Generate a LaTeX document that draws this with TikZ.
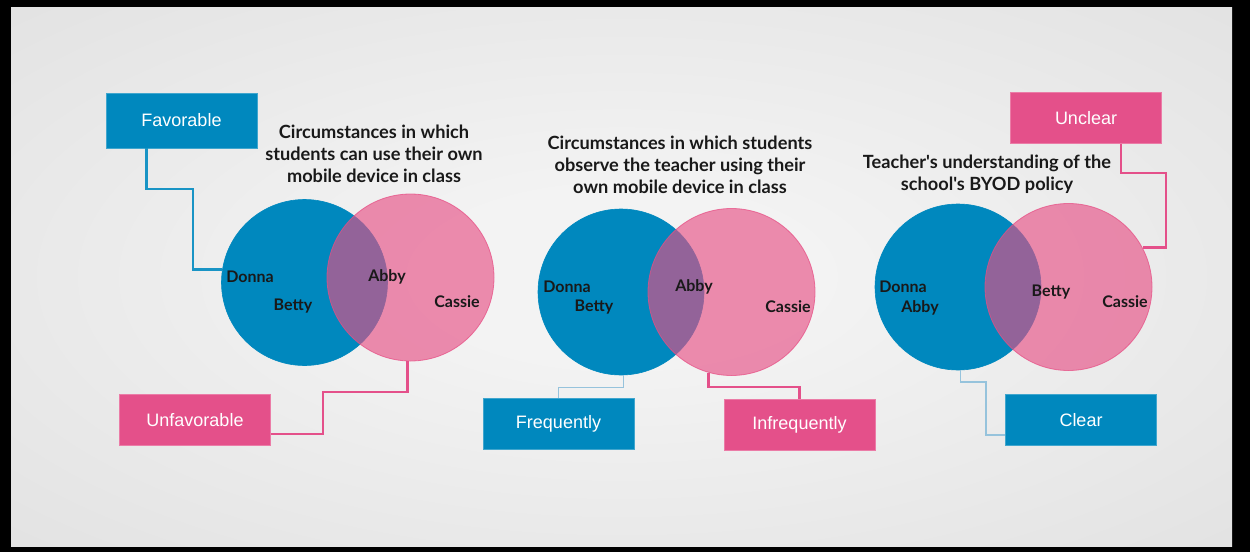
\documentclass[tikz,border=0pt]{standalone}
\usepackage{fontspec}
\setmainfont{Liberation Sans}
\newfontfamily\lato{Lato}
\definecolor{myblue}{RGB}{0,136,190}
\definecolor{mypink}{RGB}{228,80,138}
\definecolor{circpink}{RGB}{231,79,133}
\definecolor{lineblue}{RGB}{150,195,220}
\definecolor{txtdark}{RGB}{25,25,25}
\definecolor{bginner}{RGB}{243,243,243}
\definecolor{bgmid}{RGB}{218,218,218}
\definecolor{bgouter}{RGB}{210,210,210}
\pgfdeclareradialshading{bgshade}{\pgfpoint{0bp}{0bp}}{color(0bp)=(bginner); color(8bp)=(bginner); color(50bp)=(bgmid); color(72bp)=(bgouter)}
\begin{document}
\begin{tikzpicture}[x=1pt,y=-1pt,
  labelbox/.style={minimum width=151pt, minimum height=51pt, inner sep=0pt, text=white,
    font=\fontsize{18}{20}\selectfont, line width=0.7pt},
  bluebox/.style={labelbox, fill=myblue, draw=myblue!75!white},
  pinkbox/.style={labelbox, fill=mypink, draw=mypink!75!white},
  bcirc/.style={circle, inner sep=0pt, minimum size=166pt, fill=myblue, draw=myblue, line width=0.6pt},
  pcirc/.style={circle, inner sep=0pt, minimum size=167pt, fill=circpink, fill opacity=0.64,
    draw=circpink, draw opacity=0.75, line width=0.8pt},
  pname/.style={font=\lato\bfseries\fontsize{16}{18}\selectfont, text=txtdark, inner sep=0pt},
  ttl/.style={font=\lato\bfseries\fontsize{18.2}{22}\selectfont, text=txtdark, align=center, inner sep=0pt},
  bline/.style={draw=myblue!90!white, line width=2.3pt},
  pline/.style={draw=mypink, line width=2.3pt},
  tline/.style={draw=lineblue, line width=1.1pt}]
\useasboundingbox (0,0) rectangle (1250,552);
\fill[black] (0,0) rectangle (1250,552);
\shade[shading=bgshade] (11,7) rectangle (1232,546);

% ---------- panel 1 ----------
\node[bcirc] (b1) at (304.5,282.5) {};
\node[pcirc] (p1) at (410.5,277.5) {};
\node[ttl] (t1) at (374,154) {Circumstances in which\\students can use their own\\mobile device in class};
\node[pname] (n1a) at (250,277) {Donna};
\node[pname] (n1b) at (293,306) {Betty};
\node[pname] (n1c) at (387,277) {Abby};
\node[pname] (n1d) at (457,302) {Cassie};
\node[bluebox, minimum height=55pt] (fav) at (181.5,120.5) {Favorable};
\node[pinkbox] (unf) at (195,420) {Unfavorable};
\draw[bline] ([xshift=-35pt]fav.south) |- (193,189) |- (b1.171);
\draw[pline] (p1.-92) |- (323,392) |- ([yshift=-14pt]unf.east);

% ---------- panel 2 ----------
\node[bcirc] (b2) at (621,292) {};
\node[pcirc] (p2) at (731.5,292) {};
\node[ttl] (t2) at (680,164.5) {Circumstances in which students\\observe the teacher using their\\own mobile device in class};
\node[pname] (n2a) at (567,287) {Donna};
\node[pname] (n2b) at (594,307) {Betty};
\node[pname] (n2c) at (694,287) {Abby};
\node[pname] (n2d) at (788,307) {Cassie};
\node[bluebox] (freq) at (558.5,424) {Frequently};
\node[pinkbox] (infr) at (799.5,424.5) {Infrequently};
\draw[tline] (b2.-88) -- ++(0,12) -| (freq.north);
\draw[pline] (p2.-106) -- ++(0,14.6) -| (infr.north);

% ---------- panel 3 ----------
\node[bcirc] (b3) at (958,287) {};
\node[pcirc] (p3) at (1068.5,287) {};
\node[ttl] (t3) at (987,174) {Teacher's understanding of the\\school's BYOD policy};
\node[pname] (n3a) at (903,287) {Donna};
\node[pname] (n3b) at (920,308) {Abby};
\node[pname] (n3c) at (1051,292) {Betty};
\node[pname] (n3d) at (1125,302) {Cassie};
\node[pinkbox] (uncl) at (1086,118) {Unclear};
\node[bluebox] (clear) at (1081,420) {Clear};
\draw[pline] ([xshift=35pt]uncl.south) |- (1166,173) |- (p3.28);
\draw[tline] (b3.-88) |- (986,382) |- ([yshift=-15pt]clear.west);
\end{tikzpicture}
\end{document}
